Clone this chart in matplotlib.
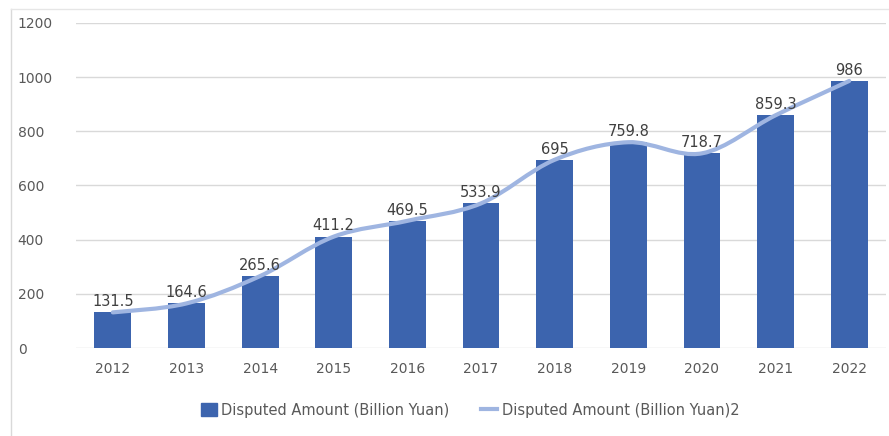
import numpy as np
import matplotlib.pyplot as plt
from matplotlib.path import Path
from matplotlib.patches import PathPatch, Rectangle
from matplotlib.lines import Line2D

years = ["2012", "2013", "2014", "2015", "2016", "2017", "2018", "2019", "2020", "2021", "2022"]
amount = [131.5, 164.6, 265.6, 411.2, 469.5, 533.9, 695, 759.8, 718.7, 859.3, 986]
labels = ["131.5", "164.6", "265.6", "411.2", "469.5", "533.9", "695", "759.8", "718.7", "859.3", "986"]

bar_color = "#3C64AE"
line_color = "#9FB5E1"
text_color = "#595959"

fig = plt.figure(figsize=(8.89, 4.36), dpi=100)
ax = fig.add_axes([76 / 889, 1 - 348 / 436, 810 / 889, 325 / 436])

x = np.arange(len(years))
ax.bar(x, amount, width=0.5, color=bar_color, zorder=2)

# smooth line like excel (catmull-rom -> bezier)
pts = np.column_stack([x, amount]).astype(float)
verts = [pts[0]]
codes = [Path.MOVETO]
for i in range(len(pts) - 1):
    p0 = pts[i - 1] if i > 0 else pts[i]
    p1 = pts[i]
    p2 = pts[i + 1]
    p3 = pts[i + 2] if i + 2 < len(pts) else pts[i + 1]
    c1 = p1 + (p2 - p0) / 6
    c2 = p2 - (p3 - p1) / 6
    verts += [c1, c2, p2]
    codes += [Path.CURVE4] * 3
ax.add_patch(PathPatch(Path(verts, codes), facecolor="none", edgecolor=line_color,
                       lw=3, capstyle="round", zorder=3))

for xi, v, t in zip(x, amount, labels):
    ax.text(xi, v + 12, t, ha="center", va="bottom", fontsize=10.5, color="#404040", zorder=4)

ax.set_xlim(-0.5, len(years) - 0.5)
ax.set_ylim(0, 1200)
ax.set_yticks(range(0, 1201, 200))
ax.set_xticks(x)
ax.set_xticklabels(years)
ax.tick_params(length=0, labelsize=10, labelcolor=text_color)
ax.tick_params(axis="y", pad=42)
ax.tick_params(axis="x", pad=10)
for lab in ax.get_yticklabels():
    lab.set_horizontalalignment("left")
ax.grid(axis="y", color="#D9D9D9", lw=1, zorder=0)
for s in ax.spines.values():
    s.set_visible(False)

handles = [Rectangle((0, 0), 1, 1, color=bar_color),
           Line2D([0], [0], color=line_color, lw=3)]
fig.legend(handles, ["Disputed Amount (Billion Yuan)", "Disputed Amount (Billion Yuan)2"],
           loc="center", bbox_to_anchor=(470 / 889, 1 - 410 / 436), ncol=2, frameon=False,
           fontsize=10.5, labelcolor=text_color, handlelength=1.1, handleheight=1.0,
           columnspacing=2.2, handletextpad=0.3)

# chart border edges
fig.add_artist(Line2D([11 / 889, 11 / 889], [0, 1 - 9 / 436], color="#D9D9D9", lw=1))
fig.add_artist(Line2D([11 / 889, 1], [1 - 9 / 436, 1 - 9 / 436], color="#E6E6E6", lw=1))

fig.savefig("out.png", dpi=100, facecolor="white")
